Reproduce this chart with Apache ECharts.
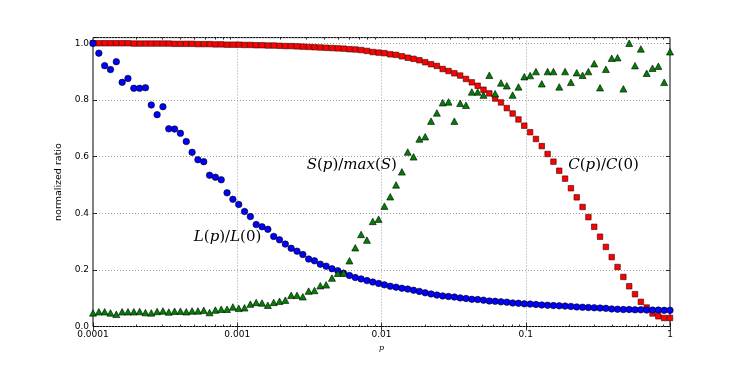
<!DOCTYPE html>
<html>
<head>
<meta charset="utf-8">
<script src="https://cdn.jsdelivr.net/npm/echarts@6/dist/echarts.min.js"></script>
<style>html,body{margin:0;padding:0;background:#fff}#c{width:747px;height:374px}</style>
</head>
<body>
<div id="c"></div>
<script>
// rewiring probability p (100 log-spaced samples)
const pValues = [
1.0000e-4,1.0975e-4,1.2045e-4,1.3219e-4,1.4508e-4,1.5923e-4,1.7475e-4,1.9179e-4,2.1049e-4,2.3101e-4,
2.5354e-4,2.7826e-4,3.0539e-4,3.3516e-4,3.6784e-4,4.0370e-4,4.4306e-4,4.8626e-4,5.3367e-4,5.8570e-4,
6.4281e-4,7.0548e-4,7.7426e-4,8.4975e-4,9.3260e-4,1.0235e-3,1.1233e-3,1.2328e-3,1.3530e-3,1.4850e-3,
1.6298e-3,1.7886e-3,1.9630e-3,2.1544e-3,2.3645e-3,2.5950e-3,2.8480e-3,3.1257e-3,3.4305e-3,3.7649e-3,
4.1320e-3,4.5349e-3,4.9770e-3,5.4623e-3,5.9948e-3,6.5793e-3,7.2208e-3,7.9248e-3,8.6975e-3,9.5455e-3,
1.0476e-2,1.1498e-2,1.2619e-2,1.3849e-2,1.5199e-2,1.6681e-2,1.8307e-2,2.0092e-2,2.2051e-2,2.4201e-2,
2.6561e-2,2.9151e-2,3.1993e-2,3.5112e-2,3.8535e-2,4.2292e-2,4.6416e-2,5.0941e-2,5.5908e-2,6.1359e-2,
6.7342e-2,7.3907e-2,8.1113e-2,8.9022e-2,9.7701e-2,0.10723,0.11768,0.12915,0.14175,0.15557,
0.17074,0.18738,0.20565,0.22570,0.24771,0.27186,0.29836,0.32745,0.35938,0.39442,
0.43288,0.47508,0.52140,0.57224,0.62803,0.68926,0.75646,0.83022,0.91116,1.0
];
// L(p)/L(0) - blue circles
const Lratio = [
1.000,0.965,0.921,0.907,0.935,0.862,0.876,0.841,0.841,0.843,
0.782,0.748,0.776,0.698,0.697,0.682,0.653,0.615,0.589,0.582,
0.534,0.527,0.518,0.472,0.449,0.431,0.406,0.388,0.360,0.352,
0.343,0.318,0.306,0.291,0.276,0.266,0.254,0.238,0.232,0.220,
0.213,0.204,0.197,0.188,0.180,0.173,0.168,0.162,0.157,0.152,
0.147,0.142,0.139,0.135,0.132,0.128,0.124,0.119,0.115,0.111,
0.108,0.106,0.104,0.101,0.099,0.096,0.095,0.093,0.090,0.089,
0.087,0.086,0.083,0.082,0.080,0.079,0.078,0.076,0.075,0.074,
0.073,0.072,0.071,0.069,0.068,0.067,0.066,0.065,0.064,0.062,
0.061,0.060,0.060,0.059,0.059,0.058,0.058,0.058,0.057,0.057
];
// C(p)/C(0) - red squares
const Cratio = [
1.000,1.000,1.000,1.000,1.000,1.000,1.000,0.999,0.999,0.999,
0.999,0.999,0.999,0.999,0.998,0.998,0.998,0.998,0.997,0.997,
0.997,0.996,0.996,0.995,0.995,0.995,0.994,0.994,0.993,0.993,
0.992,0.992,0.991,0.990,0.990,0.989,0.988,0.987,0.986,0.985,
0.984,0.983,0.982,0.981,0.979,0.978,0.976,0.973,0.969,0.967,
0.965,0.961,0.959,0.954,0.949,0.945,0.940,0.933,0.926,0.920,
0.909,0.902,0.894,0.886,0.874,0.862,0.850,0.836,0.823,0.805,
0.791,0.771,0.752,0.731,0.709,0.686,0.662,0.637,0.609,0.582,
0.550,0.522,0.488,0.456,0.422,0.386,0.352,0.317,0.281,0.245,
0.210,0.175,0.142,0.114,0.087,0.067,0.046,0.036,0.030,0.030
];
// S(p)/max(S) - green triangles
const Sratio = [
0.048,0.052,0.052,0.048,0.043,0.052,0.052,0.052,0.053,0.049,
0.048,0.053,0.055,0.051,0.054,0.054,0.052,0.055,0.055,0.057,
0.049,0.058,0.061,0.061,0.069,0.064,0.066,0.079,0.085,0.083,
0.075,0.085,0.089,0.093,0.110,0.110,0.105,0.125,0.127,0.144,
0.147,0.171,0.188,0.189,0.232,0.278,0.325,0.305,0.371,0.379,
0.425,0.458,0.500,0.546,0.616,0.599,0.662,0.670,0.725,0.754,
0.790,0.793,0.725,0.788,0.781,0.828,0.828,0.817,0.887,0.822,
0.860,0.850,0.817,0.846,0.882,0.886,0.900,0.857,0.900,0.900,
0.846,0.900,0.862,0.896,0.887,0.900,0.928,0.843,0.908,0.947,
0.949,0.839,1.000,0.921,0.980,0.894,0.912,0.919,0.862,0.970
];
const xMajorTicks = [0.0001, 0.001, 0.01, 0.1, 1];
const xTickLabels = ['0.0001', '0.001', '0.01', '0.1', '1'];
const xMinorTicks = [
2e-4,3e-4,4e-4,5e-4,6e-4,7e-4,8e-4,9e-4,
2e-3,3e-3,4e-3,5e-3,6e-3,7e-3,8e-3,9e-3,
2e-2,3e-2,4e-2,5e-2,6e-2,7e-2,8e-2,9e-2,
0.2,0.3,0.4,0.5,0.6,0.7,0.8,0.9
];
const yTickLabels = ['0.0', '0.2', '0.4', '0.6', '0.8', '1.0'];
// annotation anchors in data coordinates [p, value] (left edge, vertical middle)
const annotations = [
  {parts: [['i','L'],['r','('],['i','p'],['r',')/'],['i','L'],['r','(0)']], at: [5.0e-4, 0.316]},
  {parts: [['i','S'],['r','('],['i','p'],['r',')/'],['i','max'],['r','('],['i','S'],['r',')']], at: [3.03e-3, 0.570]},
  {parts: [['i','C'],['r','('],['i','p'],['r',')/'],['i','C'],['r','(0)']], at: [0.197, 0.570]}
];

const chart = echarts.init(document.getElementById('c'), null, {renderer: 'canvas'});
const FONT = 'DejaVu Sans';
const gridLine = {show: true, lineStyle: {color: '#888', width: 0.8, type: [1, 2]}};

function xLabel(v) {
  for (let k = 0; k < xMajorTicks.length; k++) {
    if (Math.abs(Math.log10(v) - Math.log10(xMajorTicks[k])) < 1e-6) return xTickLabels[k];
  }
  return '';
}
function yLabel(v) {
  const k = Math.round(v / 0.2);
  if (Math.abs(v - k * 0.2) > 1e-6) return '';
  return yTickLabels[k] || '';
}
const logAxisBase = {type: 'log', logBase: 10, min: 0.0001, max: 1, gridIndex: 0};

chart.setOption({
  animation: false,
  backgroundColor: '#fff',
  grid: {left: 93, right: 77, top: 37.6, bottom: 47.5, show: true, borderColor: '#000', borderWidth: 1, backgroundColor: 'transparent'},
  xAxis: [
    Object.assign({}, logAxisBase, {
      position: 'bottom',
      name: 'p', nameLocation: 'middle', nameGap: 15,
      nameTextStyle: {fontFamily: 'DejaVu Serif', fontStyle: 'italic', fontSize: 8, color: '#000'},
      axisLine: {show: false},
      axisTick: {show: true, inside: true, length: 4, lineStyle: {color: '#000', width: 0.8}},
      axisLabel: {formatter: xLabel, fontFamily: FONT, fontSize: 9, color: '#000', margin: 4, showMaxLabel: true, showMinLabel: true},
      splitLine: gridLine, minorTick: {show: false}
    }),
    Object.assign({}, logAxisBase, {
      position: 'top',
      axisLine: {show: false},
      axisTick: {show: true, inside: true, length: 4, lineStyle: {color: '#000', width: 0.8}},
      axisLabel: {show: false}, splitLine: {show: false}
    }),
    Object.assign({}, logAxisBase, {
      position: 'bottom',
      axisLine: {show: false},
      axisTick: {show: true, inside: true, length: 2, customValues: xMinorTicks, lineStyle: {color: '#000', width: 0.8}},
      axisLabel: {show: false}, splitLine: {show: false}
    }),
    Object.assign({}, logAxisBase, {
      position: 'top',
      axisLine: {show: false},
      axisTick: {show: true, inside: true, length: 2, customValues: xMinorTicks, lineStyle: {color: '#000', width: 0.8}},
      axisLabel: {show: false}, splitLine: {show: false}
    })
  ],
  yAxis: [
    {
      type: 'value', min: 0, max: 1.02, interval: 0.2, position: 'left',
      name: 'normalized ratio', nameLocation: 'middle', nameGap: 20, nameRotate: 90,
      nameTextStyle: {fontFamily: FONT, fontSize: 9.5, color: '#000'},
      axisLine: {show: false},
      axisTick: {show: true, inside: true, length: 4, lineStyle: {color: '#000', width: 0.8}},
      axisLabel: {formatter: yLabel, fontFamily: FONT, fontSize: 9, color: '#000', margin: 4},
      splitLine: gridLine
    },
    {
      type: 'value', min: 0, max: 1.02, interval: 0.2, position: 'right',
      axisLine: {show: false},
      axisTick: {show: true, inside: true, length: 4, lineStyle: {color: '#000', width: 0.8}},
      axisLabel: {show: false}, splitLine: {show: false}
    }
  ],
  series: [
    {
      name: 'C(p)/C(0)', type: 'scatter', xAxisIndex: 0, yAxisIndex: 0,
      data: pValues.map((p, i) => [p, Cratio[i]]),
      symbol: 'rect', symbolSize: 5.5,
      itemStyle: {color: '#ff0000', borderColor: '#3a0000', borderWidth: 0.6, opacity: 1}
    },
    {
      name: 'L(p)/L(0)', type: 'scatter', xAxisIndex: 0, yAxisIndex: 0,
      data: pValues.map((p, i) => [p, Lratio[i]]),
      symbol: 'circle', symbolSize: 6.5,
      itemStyle: {color: '#0000ff', borderColor: '#000', borderWidth: 0.6, opacity: 1}
    },
    {
      name: 'S(p)/max(S)', type: 'scatter', xAxisIndex: 0, yAxisIndex: 0,
      data: pValues.map((p, i) => [p, Sratio[i]]),
      symbol: 'triangle', symbolSize: [7, 6.5],
      itemStyle: {color: '#008000', borderColor: '#000', borderWidth: 0.6, opacity: 1}
    }
  ]
});

// annotations anchored in data coordinates
const rich = {
  i: {fontFamily: 'DejaVu Serif', fontStyle: 'italic', fontSize: 15, color: '#000'},
  r: {fontFamily: 'DejaVu Serif', fontSize: 15, color: '#000'}
};
const graphics = annotations.map(a => {
  const px = chart.convertToPixel({xAxisIndex: 0, yAxisIndex: 0}, a.at);
  return {
    type: 'text', x: px[0], y: px[1], z: 100,
    style: {
      text: a.parts.map(pt => '{' + pt[0] + '|' + pt[1] + '}').join(''),
      rich: rich, align: 'left', verticalAlign: 'middle'
    }
  };
});
chart.setOption({graphic: graphics});
</script>
</body>
</html>
